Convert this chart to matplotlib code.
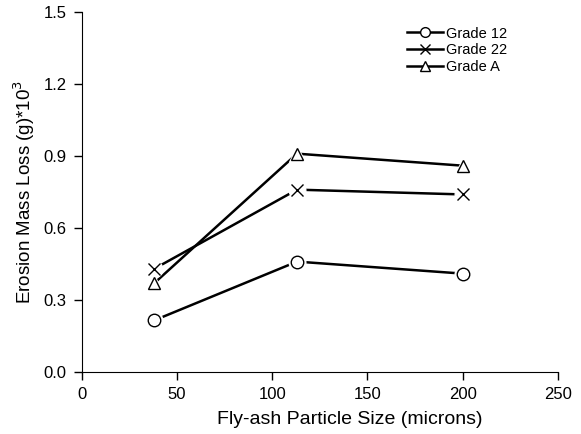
import matplotlib
matplotlib.use("Agg")
import matplotlib.pyplot as plt

plt.rcParams['font.family'] = ['Liberation Sans', 'DejaVu Sans']

sizes = [38, 113, 200]
grade12 = [0.215, 0.46, 0.41]
grade22 = [0.43, 0.76, 0.74]
gradeA = [0.37, 0.91, 0.86]
labels = ["Grade 12", "Grade 22", "Grade A"]
xticks = [0, 50, 100, 150, 200, 250]
yticks = [0.0, 0.3, 0.6, 0.9, 1.2, 1.5]

fig = plt.figure(figsize=(5.81, 4.34), dpi=100)
ax = fig.add_axes([0.141, 0.143, 0.819, 0.829])

series = [(grade12, 'o', labels[0]), (grade22, 'x', labels[1]), (gradeA, '^', labels[2])]
for vals, mk, lab in series:
    ax.plot(sizes, vals, color='black', linewidth=1.8, zorder=2)
    # white halo to make gap between line and marker
    ax.plot(sizes, vals, linestyle='none', marker='o' if mk != '^' else '^',
            markersize=12, markerfacecolor='white', markeredgecolor='white', zorder=3)
    ax.plot(sizes, vals, linestyle='none', marker=mk, markersize=9,
            markerfacecolor='white', markeredgecolor='black', markeredgewidth=1.0, zorder=4)
    # legend proxy
    ax.plot([], [], color='black', linewidth=1.8, marker=mk, markersize=7,
            markerfacecolor='white', markeredgecolor='black', markeredgewidth=1.0, label=lab)

ax.set_xlim(0, 250)
ax.set_ylim(0, 1.5)
ax.set_xticks(xticks)
ax.set_yticks(yticks)
ax.set_yticklabels([f"{v:.1f}" for v in yticks])
ax.spines['top'].set_visible(False)
ax.spines['right'].set_visible(False)
ax.tick_params(direction='out', length=6, width=1, labelsize=12, colors='black', pad=5)
ax.set_xlabel("Fly-ash Particle Size (microns)", fontsize=14, labelpad=6, x=0.563)
ax.set_ylabel("Erosion Mass Loss (g)*10$^3$", fontsize=13.5, labelpad=5)

leg = ax.legend(loc='upper left', bbox_to_anchor=(0.683, 0.96), frameon=False,
                fontsize=10.5, handlelength=2.5, handletextpad=0.2,
                labelspacing=0.2, borderpad=0.0, borderaxespad=0.0)

fig.savefig("out.png", dpi=100)
